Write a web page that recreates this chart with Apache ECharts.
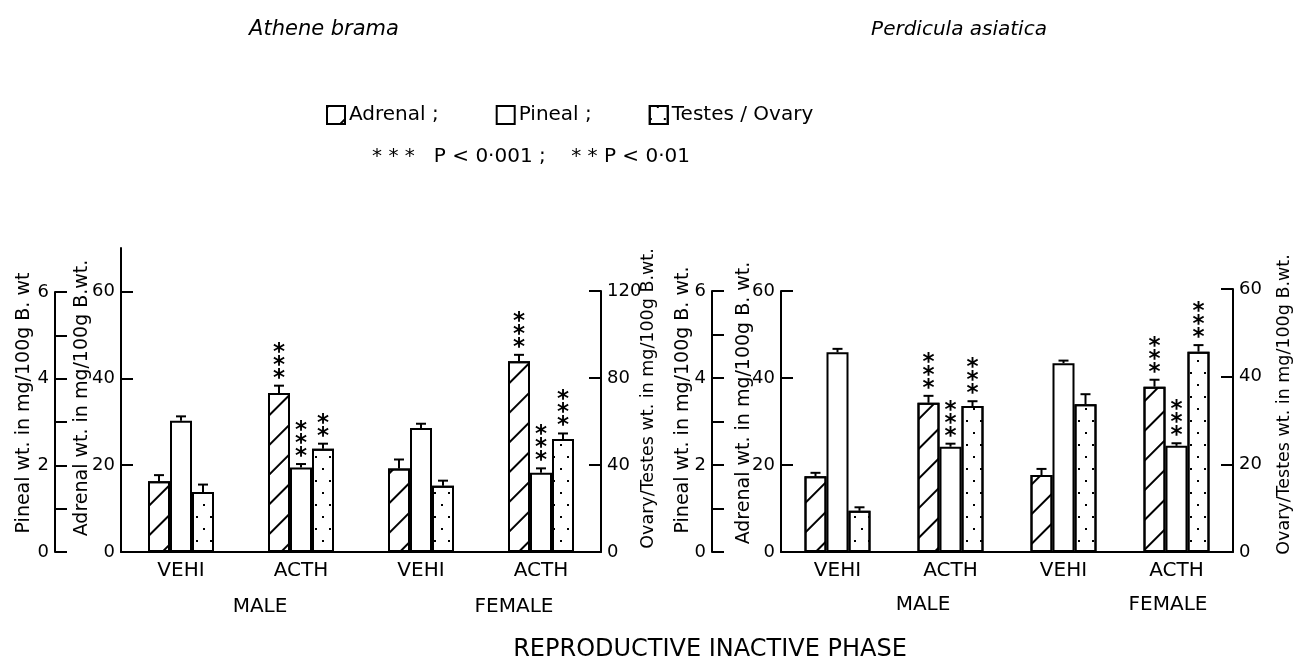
<!DOCTYPE html>
<html>
<head>
<meta charset="utf-8">
<script src="https://cdn.jsdelivr.net/npm/echarts@6/dist/echarts.min.js"></script>
<style>
  html, body { margin: 0; padding: 0; background: #fff; }
  #main { width: 1295px; height: 657px; }
</style>
</head>
<body>
<div id="main"></div>
<script>
var categories = ['VEHI', 'ACTH', 'VEHI', 'ACTH'];
var groups = ['MALE', 'FEMALE'];
var measures = ['Adrenal', 'Pineal', 'Testes / Ovary'];

// Athene brama
var abAdrenal = [16.3, 36.6, 19.2, 43.9];
var abAdrenalErr = [1.4, 1.7, 2.1, 1.5];
var abAdrenalStars = [0, 3, 0, 3];
var abPineal = [3.03, 1.95, 2.86, 1.83];
var abPinealErr = [0.1, 0.08, 0.1, 0.1];
var abPinealStars = [0, 3, 0, 3];
var abGonad = [27.6, 47.5, 30.5, 51.9];
var abGonadErr = [3.4, 2.3, 2.3, 2.6];
var abGonadStars = [0, 2, 0, 3];

// Perdicula asiatica
var paAdrenal = [17.4, 34.3, 17.7, 38.0];
var paAdrenalErr = [0.8, 1.6, 1.4, 1.6];
var paAdrenalStars = [0, 3, 0, 3];
var paPineal = [4.59, 2.42, 4.34, 2.44];
var paPinealErr = [0.08, 0.07, 0.06, 0.06];
var paPinealStars = [0, 3, 0, 3];
var paGonad = [9.4, 33.3, 33.7, 45.7];
var paGonadErr = [0.8, 1.1, 2.3, 1.5];
var paGonadStars = [0, 3, 0, 3];

// axis tick labels
var pinealTicks = [0, 2, 4, 6];
var adrenalTicks = [0, 20, 40, 60];
var abGonadTicks = [0, 40, 80, 120];
var paGonadTicks = [0, 20, 40, 60];

var FONT = 'DejaVu Sans';
var BAR_W = 22;

var hatch = {
    symbol: 'rect', symbolSize: 1, color: '#000',
    dashArrayX: [1, 0], dashArrayY: [2, 19], rotation: -Math.PI / 4
};
var dots = {
    symbol: 'rect', symbolSize: 1, color: '#000',
    dashArrayX: [[2, 12], [0, 7, 2, 5]], dashArrayY: [2, 10], rotation: 0
};
var decals = [hatch, null, dots];

var option = {
    backgroundColor: '#fff',
    animation: false,
    grid: [], xAxis: [], yAxis: [], series: [],
    legend: {
        left: 321, top: 100,
        itemWidth: 18, itemHeight: 18, itemGap: 57,
        icon: 'rect',
        selectedMode: false,
        data: measures,
        formatter: function (n) { return n === 'Testes / Ovary' ? n : n + ' ;'; },
        itemStyle: { color: '#fff', borderColor: '#000', borderWidth: 2 },
        textStyle: { color: '#000', fontSize: 20, fontFamily: FONT, padding: [0, 0, 0, -1] }
    },
    graphic: []
};

function baseYAxis() {
    return {
        type: 'value',
        axisLine: { show: true, lineStyle: { color: '#000', width: 2 } },
        axisTick: { show: true, inside: true, length: 12, lineStyle: { color: '#000', width: 2 } },
        axisLabel: { color: '#000', fontSize: 18, fontFamily: FONT, margin: 6 },
        splitLine: { show: false },
        nameLocation: 'middle',
        nameRotate: 90,
        nameMoveOverlap: false,
        nameTextStyle: { color: '#000', fontSize: 19, fontFamily: FONT }
    };
}

function errorBar(slot) {
    return function (params, api) {
        var i = api.value(0), v = api.value(1), e = api.value(2), n = api.value(3);
        var p0 = api.coord([i, v]);
        var p1 = api.coord([i, v + e]);
        var x = p0[0] + slot * BAR_W;
        var kids = [
            { type: 'line', shape: { x1: x, y1: p0[1], x2: x, y2: p1[1] }, style: { stroke: '#000', lineWidth: 2 } },
            { type: 'line', shape: { x1: x - 5, y1: p1[1], x2: x + 5, y2: p1[1] }, style: { stroke: '#000', lineWidth: 2 } }
        ];
        for (var s = 0; s < n; s++) {
            kids.push({
                type: 'text', x: x, y: p1[1] - 7 - s * 13,
                style: { text: '*', fill: '#000', font: 'bold 23px ' + FONT, align: 'center', verticalAlign: 'middle' }
            });
        }
        return { type: 'group', children: kids };
    };
}

// one grid per measure so each axis line can have its own length
function addPanel(p) {
    p.parts.forEach(function (m, k) {
        var gi = option.grid.length;
        option.grid.push({ left: p.left, width: p.width, top: m.top, height: p.bottom - m.top, outerBoundsMode: 'none' });
        option.xAxis.push({
            type: 'category', gridIndex: gi, data: categories, show: k === 0,
            axisLine: { lineStyle: { color: '#000', width: 2 } },
            axisTick: { show: false },
            axisLabel: { color: '#000', fontSize: 20, fontFamily: FONT, margin: 9 }
        });
        var ya = baseYAxis();
        ya.gridIndex = gi;
        ya.min = 0; ya.max = m.max; ya.interval = m.interval;
        ya.position = m.position;
        ya.offset = m.offset || 0;
        ya.name = m.title;
        ya.nameGap = m.nameGap;
        ya.nameTextStyle.padding = [0, 0, 0, m.shift || 0];
        if (m.nameSize) ya.nameTextStyle.fontSize = m.nameSize;
        ya.axisLabel.customValues = m.ticks;
        if (m.tickValues) ya.axisTick.customValues = m.tickValues;
        option.yAxis.push(ya);
        for (var j = 0; j < 3; j++) {
            var s = { type: 'bar', xAxisIndex: gi, yAxisIndex: gi, barWidth: BAR_W, barGap: '0%', data: [] };
            if (j === k) {
                s.name = measures[k];
                s.data = m.values;
                s.itemStyle = { color: '#fff', borderColor: '#000', borderWidth: 2, decal: decals[k] || undefined };
            }
            option.series.push(s);
        }
        option.series.push({
            type: 'custom', xAxisIndex: gi, yAxisIndex: gi, z: 5,
            renderItem: errorBar(k - 1),
            data: m.values.map(function (v, i) { return [i, v, m.errs[i], m.stars[i]]; })
        });
    });
}

addPanel({
    left: 121, width: 480, bottom: 552,
    parts: [
        { top: 248, max: 70, interval: 10, ticks: adrenalTicks, tickValues: adrenalTicks, position: 'left',
          title: 'Adrenal wt. in mg/100g B.wt.', nameGap: 29, shift: 4,
          values: abAdrenal, errs: abAdrenalErr, stars: abAdrenalStars },
        { top: 292, max: 6, interval: 1, ticks: pinealTicks, position: 'left', offset: 66,
          title: 'Pineal wt. in mg/100g B. wt', nameGap: 21, shift: 38,
          values: abPineal, errs: abPinealErr, stars: abPinealStars },
        { top: 291, max: 120, interval: 40, ticks: abGonadTicks, position: 'right',
          title: 'Ovary/Testes wt. in mg/100g B.wt.', nameGap: 38, shift: 46, nameSize: 17.5,
          values: abGonad, errs: abGonadErr, stars: abGonadStars }
    ]
});

addPanel({
    left: 781, width: 452, bottom: 552,
    parts: [
        { top: 291, max: 60, interval: 20, ticks: adrenalTicks, position: 'left',
          title: 'Adrenal wt. in mg/100g B. wt.', nameGap: 27, shift: 37,
          values: paAdrenal, errs: paAdrenalErr, stars: paAdrenalStars },
        { top: 291, max: 6, interval: 1, ticks: pinealTicks, position: 'left', offset: 69,
          title: 'Pineal wt. in mg/100g B. wt.', nameGap: 19, shift: 43,
          values: paPineal, errs: paPinealErr, stars: paPinealStars },
        { top: 289, max: 60, interval: 20, ticks: paGonadTicks, position: 'right',
          title: 'Ovary/Testes wt. in mg/100g B.wt.', nameGap: 42, shift: 32, nameSize: 17.5,
          values: paGonad, errs: paGonadErr, stars: paGonadStars }
    ]
});

function label(text, x, y, size, extra) {
    var st = { text: text, fill: '#000', font: (extra || '') + size + 'px ' + FONT, align: 'center', verticalAlign: 'middle' };
    return { type: 'text', x: x, y: y, style: st };
}

option.graphic = [
    label('Athene brama', 324, 30, 21, 'italic '),
    label('Perdicula asiatica', 959, 30, 20, 'italic '),
    label('* * *   P < 0·001 ;    * * P < 0·01', 531, 157, 20),
    label(groups[0], 260, 607, 20),
    label(groups[1], 514, 607, 20),
    label(groups[0], 923, 605, 20),
    label(groups[1], 1168, 605, 20),
    label('REPRODUCTIVE INACTIVE PHASE', 710, 650, 24)
];

var chart = echarts.init(document.getElementById('main'));
chart.setOption(option);
</script>
</body>
</html>
